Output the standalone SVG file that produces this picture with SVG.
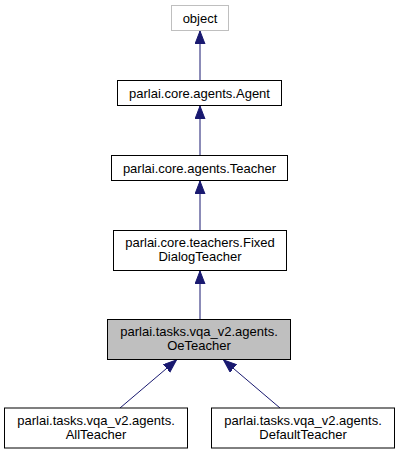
<svg xmlns="http://www.w3.org/2000/svg" width="400" height="455" viewBox="0 0 400 455">
<style>
.node rect{fill:#ffffff;stroke:#000000;stroke-width:1}
.node text{font-family:"Liberation Sans",Arial,Helvetica,sans-serif;font-size:13px;fill:#000000;text-anchor:middle}
.edge{fill:none;stroke:#191970;stroke-width:1}
</style>
<defs>
<marker id="arrow" markerUnits="userSpaceOnUse" markerWidth="14" markerHeight="12" refX="13" refY="5" orient="auto">
<path d="M0,0 L13,5 L0,10 z" fill="#191970" stroke="#191970" stroke-width="1"/>
</marker>
</defs>
<rect x="0" y="0" width="400" height="455" fill="#ffffff"/>
<g id="connectors">
<path class="edge" d="M200,80.5 L200,31" marker-end="url(#arrow)"/>
<path class="edge" d="M200,155.5 L200,106" marker-end="url(#arrow)"/>
<path class="edge" d="M200,230.5 L200,181" marker-end="url(#arrow)"/>
<path class="edge" d="M200,319.5 L200,271" marker-end="url(#arrow)"/>
<path class="edge" d="M120,408 L176.5,360" marker-end="url(#arrow)"/>
<path class="edge" d="M280,408 L223.5,360" marker-end="url(#arrow)"/>
</g>
<g id="node-object" class="node">
<rect x="171.5" y="5.5" width="57" height="25" style="stroke:#bfbfbf"/>
<text x="200" y="23">object</text>
</g>
<g id="node-agent" class="node">
<rect x="117.5" y="80.5" width="164" height="25"/>
<text x="199.5" y="98">parlai.core.agents.Agent</text>
</g>
<g id="node-teacher" class="node">
<rect x="111.5" y="155.5" width="176" height="25"/>
<text x="199.5" y="173">parlai.core.agents.Teacher</text>
</g>
<g id="node-fixed" class="node">
<rect x="113.5" y="230.5" width="173" height="40"/>
<text x="200" y="247">parlai.core.teachers.Fixed</text>
<text x="200" y="261">DialogTeacher</text>
</g>
<g id="node-oe" class="node">
<rect x="107.5" y="319.5" width="183" height="40" style="fill:#bfbfbf"/>
<text x="199" y="336">parlai.tasks.vqa_v2.agents.</text>
<text x="199" y="350">OeTeacher</text>
</g>
<g id="node-all" class="node">
<rect x="4.5" y="408" width="183" height="40"/>
<text x="96" y="425">parlai.tasks.vqa_v2.agents.</text>
<text x="96" y="439">AllTeacher</text>
</g>
<g id="node-default" class="node">
<rect x="211.5" y="408" width="183" height="40"/>
<text x="303" y="425">parlai.tasks.vqa_v2.agents.</text>
<text x="303" y="439">DefaultTeacher</text>
</g>
</svg>
